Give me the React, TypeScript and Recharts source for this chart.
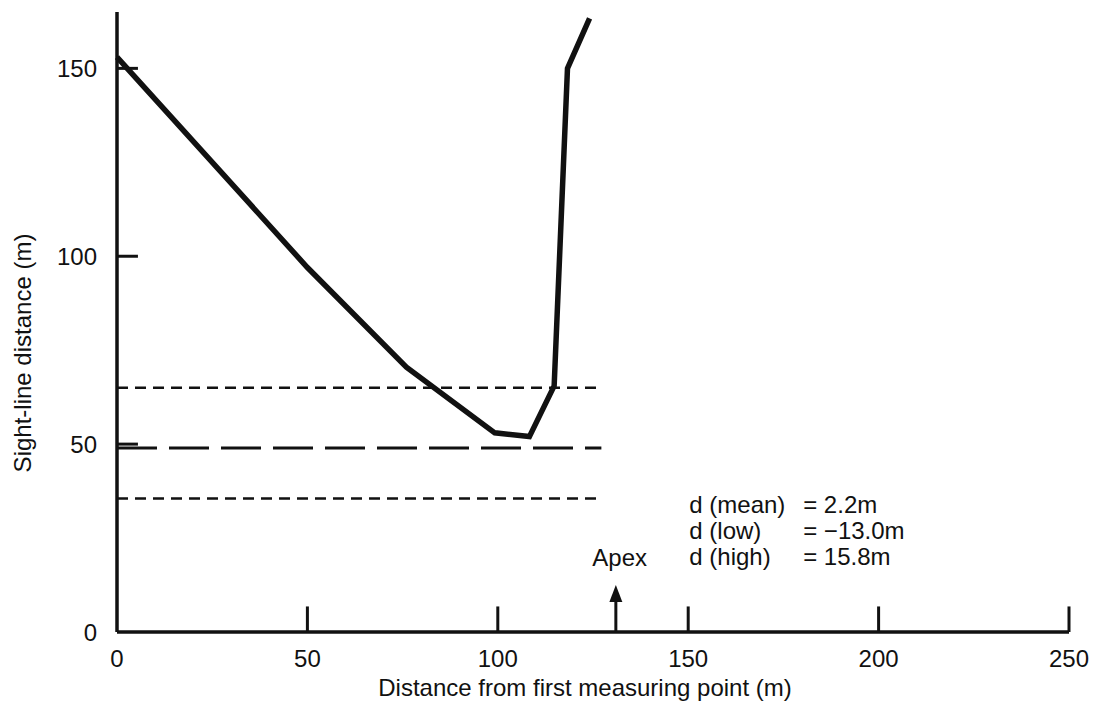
import { LineChart, Line, XAxis, YAxis, ReferenceLine, ReferenceDot } from 'recharts';

// distance from first measuring point (m) and sight-line distance (m)
const distances = [0, 50, 76, 99.2, 108.3, 114.8, 118.3, 124.1];
const sightLine = [153, 97, 70.5, 53, 52, 65.5, 150, 163.3];

const xTicks = [0, 50, 100, 150, 200, 250];
const yTicks = [0, 50, 100, 150];

// horizontal reference levels (m): high, mean, low
const levelHigh = 65;
const levelMean = 49;
const levelLow = 35.5;
const levelEnd = 127.2;

const apexAt = 131;

const notes = [
  { name: 'd (mean)', value: '= 2.2m', y: 31.6 },
  { name: 'd (low)', value: '= \u221213.0m', y: 24.7 },
  { name: 'd (high)', value: '= 15.8m', y: 17.8 },
];
const notesX = 150.3;
const notesValueX = 180.2;

const data = distances.map((x, i) => ({ x, y: sightLine[i] }));

const FONT = '"Liberation Sans", Arial, Helvetica, sans-serif';
const INK = '#111';

export default function App() {
  return (
    <div style={{ position: 'absolute', left: 0, top: 0, background: '#fff' }}>
      <LineChart width={1095} height={712} data={data} margin={{ top: 12, right: 26, bottom: 0, left: 0 }}>
        <XAxis
          type="number"
          dataKey="x"
          domain={[0, 250]}
          ticks={xTicks}
          tickSize={0}
          tickMargin={18}
          tickLine={false}
          axisLine={{ stroke: INK, strokeWidth: 3.5 }}
          tick={{ fill: INK, fontSize: 24, fontFamily: FONT }}
          height={80}
          label={{
            content: ({ viewBox }: any) => (
              <text
                x={viewBox.x + viewBox.width / 2 - 8}
                y={viewBox.y + 64}
                textAnchor="middle"
                fill={INK}
                fontSize={24}
                fontFamily={FONT}
              >
                Distance from first measuring point (m)
              </text>
            ),
          }}
        />
        <YAxis
          type="number"
          domain={[0, 165]}
          ticks={yTicks}
          tickSize={0}
          tickMargin={20}
          tickLine={false}
          axisLine={{ stroke: INK, strokeWidth: 3.5 }}
          tick={{ fill: INK, fontSize: 24, fontFamily: FONT }}
          width={117}
          label={{
            content: ({ viewBox }: any) => (
              <text
                transform={`translate(${viewBox.x + 31}, ${viewBox.y + viewBox.height / 2 + 31}) rotate(-90)`}
                textAnchor="middle"
                fill={INK}
                fontSize={24}
                fontFamily={FONT}
              >
                Sight-line distance (m)
              </text>
            ),
          }}
        />

        {/* inward tick marks */}
        {xTicks.slice(1).map((t) => (
          <ReferenceLine
            key={'xt' + t}
            segment={[{ x: t, y: 0 }, { x: t, y: 6.8 }]}
            stroke={INK}
            strokeWidth={3}
          />
        ))}
        {yTicks.slice(1).map((t) => (
          <ReferenceLine
            key={'yt' + t}
            segment={[{ x: 0, y: t }, { x: 5.5, y: t }]}
            stroke={INK}
            strokeWidth={3}
          />
        ))}

        <ReferenceLine
          segment={[{ x: 0, y: levelHigh }, { x: levelEnd, y: levelHigh }]}
          stroke={INK}
          strokeWidth={2.5}
          strokeDasharray="11 7"
        />
        <ReferenceLine
          segment={[{ x: 0, y: levelMean }, { x: levelEnd, y: levelMean }]}
          stroke={INK}
          strokeWidth={3}
          strokeDasharray="40 12"
        />
        <ReferenceLine
          segment={[{ x: 0, y: levelLow }, { x: levelEnd, y: levelLow }]}
          stroke={INK}
          strokeWidth={2.5}
          strokeDasharray="11 7"
        />

        {/* apex arrow */}
        <ReferenceLine segment={[{ x: apexAt, y: 0 }, { x: apexAt, y: 9 }]} stroke={INK} strokeWidth={3} />
        <ReferenceDot
          x={apexAt}
          y={12.5}
          r={0}
          shape={(p: any) => (
            <polygon
              points={`${p.cx},${p.cy} ${p.cx - 6.5},${p.cy + 17} ${p.cx + 6.5},${p.cy + 17}`}
              fill={INK}
            />
          )}
        />
        <ReferenceDot
          x={apexAt + 1}
          y={17.5}
          r={0}
          shape={(p: any) => (
            <text x={p.cx} y={p.cy} textAnchor="middle" fill={INK} fontSize={24} fontFamily={FONT}>
              Apex
            </text>
          )}
        />

        {notes.map((n) => (
          <ReferenceDot
            key={n.name}
            x={notesX}
            y={n.y}
            r={0}
            shape={(p: any) => (
              <text x={p.cx} y={p.cy} fill={INK} fontSize={24} fontFamily={FONT}>
                {n.name}
              </text>
            )}
          />
        ))}
        {notes.map((n) => (
          <ReferenceDot
            key={n.value}
            x={notesValueX}
            y={n.y}
            r={0}
            shape={(p: any) => (
              <text x={p.cx} y={p.cy} fill={INK} fontSize={24} fontFamily={FONT}>
                {n.value}
              </text>
            )}
          />
        ))}

        <Line
          type="linear"
          dataKey="y"
          stroke={INK}
          strokeWidth={5.5}
          dot={false}
          isAnimationActive={false}
        />
      </LineChart>
    </div>
  );
}
